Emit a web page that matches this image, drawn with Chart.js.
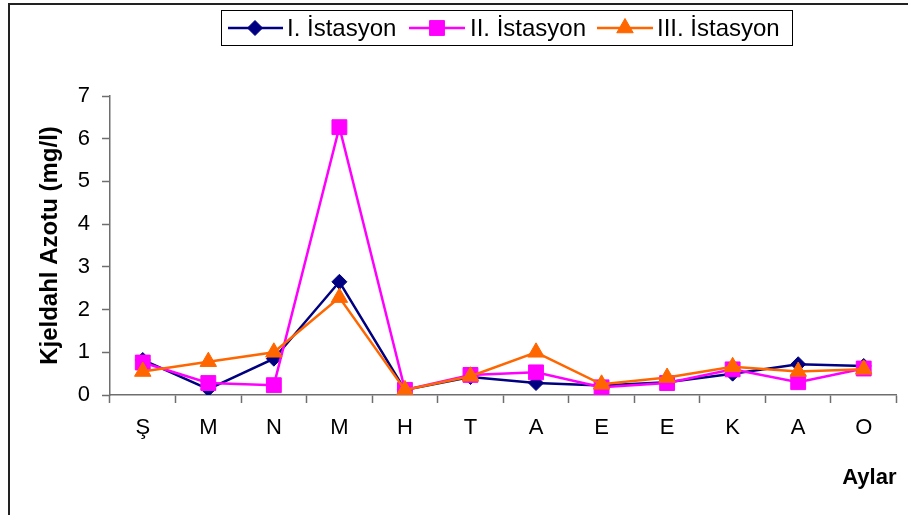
<!DOCTYPE html>
<html>
<head>
<meta charset="utf-8">
<script src="https://cdn.jsdelivr.net/npm/chart.js@4.4.1/dist/chart.umd.min.js"></script>
<style>
  html, body { margin: 0; padding: 0; background: #fff; }
  #wrap { position: relative; width: 908px; height: 515px; }
</style>
</head>
<body>
<div id="wrap"><canvas id="chart" width="908" height="515"></canvas></div>
<script>
// Months (Turkish initials) along the x axis
const categories = ['Ş', 'M', 'N', 'M', 'H', 'T', 'A', 'E', 'E', 'K', 'A', 'O'];

// Kjeldahl nitrogen (mg/l) per station
const station1 = [0.82, 0.14, 0.85, 2.65, 0.12, 0.42, 0.28, 0.22, 0.30, 0.50, 0.72, 0.68];
const station2 = [0.76, 0.28, 0.23, 6.27, 0.12, 0.47, 0.53, 0.18, 0.28, 0.60, 0.30, 0.62];
const station3 = [0.55, 0.78, 1.00, 2.28, 0.12, 0.44, 1.00, 0.25, 0.41, 0.66, 0.55, 0.60];

const seriesNames = ['I. İstasyon', 'II. İstasyon', 'III. İstasyon'];
const yTickMin = 0;
const yTickMax = 7;
const yTickStep = 1;

const FONT = '"Liberation Sans", Arial, Helvetica, sans-serif';
const colors = ['#000080', '#FF00FF', '#FF6600'];
const styles = [
  { pointStyle: 'rectRot', radius: 7.5 },
  { pointStyle: 'rect', radius: 10.5 },
  { pointStyle: 'triangle', radius: 9.5 }
];

// Frame around the whole chart object
const framePlugin = {
  id: 'frame',
  beforeDraw(chart) {
    const ctx = chart.ctx;
    ctx.save();
    ctx.strokeStyle = '#222';
    ctx.lineWidth = 2;
    ctx.beginPath();
    ctx.moveTo(9, 515);
    ctx.lineTo(9, 4);
    ctx.lineTo(908, 4);
    ctx.stroke();
    ctx.restore();
  }
};

// Boxed legend with line + marker samples
const legendBoxPlugin = {
  id: 'legendBox',
  afterDraw(chart) {
    const ctx = chart.ctx;
    const box = { x: 221, y: 10, w: 571, h: 35 };
    ctx.save();
    ctx.fillStyle = '#fff';
    ctx.fillRect(box.x, box.y, box.w, box.h);
    ctx.strokeStyle = '#000';
    ctx.lineWidth = 1;
    ctx.strokeRect(box.x + 0.5, box.y + 0.5, box.w, box.h);
    const items = [
      { x0: 228, x1: 283, mx: 255, tx: 287 },
      { x0: 409, x1: 465, mx: 437, tx: 470 },
      { x0: 597, x1: 653, mx: 625, tx: 657 }
    ];
    const cy = 28;
    chart.data.datasets.forEach((ds, i) => {
      const it = items[i];
      ctx.strokeStyle = ds.borderColor;
      ctx.lineWidth = ds.borderWidth;
      ctx.beginPath();
      ctx.moveTo(it.x0, cy);
      ctx.lineTo(it.x1, cy);
      ctx.stroke();
      ctx.fillStyle = ds.pointBackgroundColor;
      ctx.strokeStyle = ds.pointBorderColor;
      ctx.lineWidth = 1;
      Chart.helpers.drawPoint(ctx, {
        pointStyle: ds.pointStyle,
        radius: ds.pointRadius,
        rotation: 0,
        borderWidth: 1
      }, it.mx, cy);
      ctx.fillStyle = '#000';
      ctx.font = '24px ' + FONT;
      ctx.textBaseline = 'alphabetic';
      ctx.textAlign = 'left';
      ctx.fillText(ds.label, it.tx, 36);
    });
    ctx.restore();
  }
};

const seriesData = [station1, station2, station3];
const datasets = seriesData.map((values, i) => ({
  label: seriesNames[i],
  data: values,
  borderColor: colors[i],
  backgroundColor: colors[i],
  pointBackgroundColor: colors[i],
  pointBorderColor: colors[i],
  pointBorderWidth: 1,
  pointStyle: styles[i].pointStyle,
  pointRadius: styles[i].radius,
  pointHoverRadius: styles[i].radius,
  borderWidth: 2.5,
  tension: 0,
  fill: false,
  order: 2 - i
}));

new Chart(document.getElementById('chart'), {
  type: 'line',
  data: { labels: categories, datasets },
  options: {
    responsive: false,
    animation: false,
    events: [],
    layout: { padding: { top: 96, right: 8, bottom: 0, left: 0 } },
    plugins: {
      legend: { display: false },
      tooltip: { enabled: false }
    },
    scales: {
      x: {
        type: 'category',
        offset: true,
        afterFit(scale) { scale.height = 120; },
        grid: {
          offset: true,
          drawOnChartArea: false,
          drawTicks: true,
          tickLength: 8,
          tickColor: '#6e6e6e',
          tickWidth: 1.5
        },
        border: { display: true, color: '#6e6e6e', width: 1.5 },
        ticks: {
          color: '#000',
          font: { family: FONT, size: 22 },
          padding: 12,
          maxRotation: 0,
          autoSkip: false
        },
        title: {
          display: true,
          text: 'Aylar',
          align: 'end',
          color: '#000',
          font: { family: FONT, size: 22, weight: 'bold', lineHeight: 1 },
          padding: { top: 0, bottom: 26 }
        }
      },
      y: {
        min: yTickMin,
        max: yTickMax,
        afterFit(scale) { scale.width = 110; },
        grid: {
          drawOnChartArea: false,
          drawTicks: true,
          tickLength: 8,
          tickColor: '#6e6e6e',
          tickWidth: 1.5
        },
        border: { display: true, color: '#6e6e6e', width: 1.5 },
        ticks: {
          stepSize: yTickStep,
          color: '#000',
          font: { family: FONT, size: 22 },
          padding: 12
        },
        title: {
          display: true,
          text: 'Kjeldahl Azotu (mg/l)',
          color: '#000',
          font: { family: FONT, size: 24, weight: 'bold', lineHeight: 1 },
          padding: { top: 38, bottom: 0 }
        }
      }
    }
  },
  plugins: [framePlugin, legendBoxPlugin]
});
</script>
</body>
</html>
